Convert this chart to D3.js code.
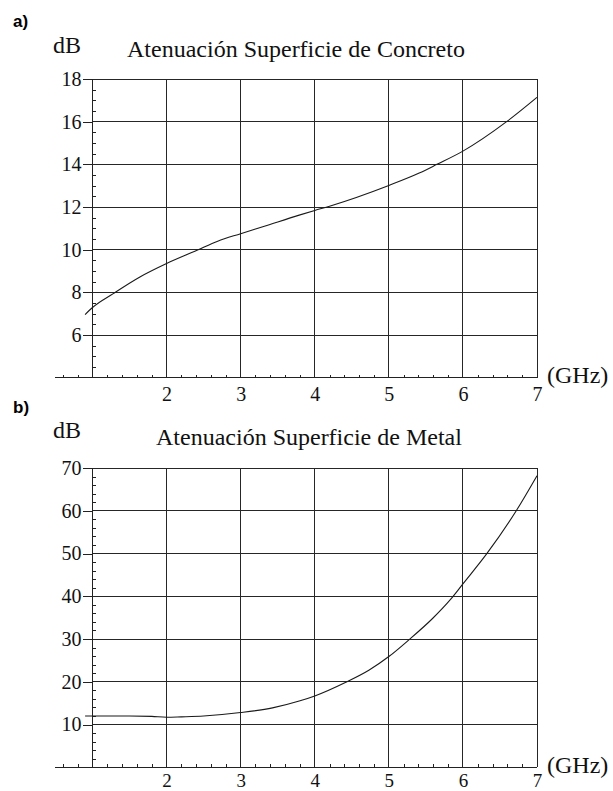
<!DOCTYPE html>
<html lang="es">
<head>
<meta charset="UTF-8">
<title>Atenuación</title>
<script src="https://cdn.jsdelivr.net/npm/d3@7"></script>
<style>
  body { margin: 0; background: #fff; }
  svg { display: block; }
  .axis path, .axis line { stroke: #222; shape-rendering: crispEdges; }
  .grid line { stroke: #262626; stroke-width: 1; shape-rendering: crispEdges; }
  .curve { fill: none; stroke: #1a1a1a; stroke-width: 1.1; }
</style>
</head>
<body>
<script>
// frequency ticks (GHz)
const freqTicks = [2, 3, 4, 5, 6, 7];

// a) concrete surface
const freqA  = [0.9, 1.0, 1.28, 1.64, 2.0, 2.41, 2.69, 3.0, 3.32, 3.79, 4.0, 4.2, 5.0, 5.41, 5.65, 6.0, 6.59, 7.0];
const attenA = [6.96, 7.29, 7.94, 8.72, 9.35, 9.97, 10.4, 10.75, 11.1, 11.62, 11.84, 12.04, 13.01, 13.59, 14.0, 14.62, 16.0, 17.14];
const yTicksA = [6, 8, 10, 12, 14, 16, 18];

// b) metal surface
const freqB  = [0.9, 1.0, 1.5, 1.8, 2.0, 2.2, 2.5, 3.0, 3.43, 3.79, 4.0, 4.42, 4.73, 5.0, 5.27, 5.59, 5.83, 6.0, 6.32, 6.72, 7.0];
const attenB = [12.0, 12.0, 12.0, 11.9, 11.7, 11.8, 12.0, 12.8, 13.9, 15.5, 16.7, 19.9, 22.7, 25.9, 29.8, 34.8, 39.2, 42.9, 49.9, 60.0, 68.2];
const yTicksB = [10, 20, 30, 40, 50, 60, 70];

var w = 613, h = 791;
var serif = "'Liberation Serif', 'Times New Roman', serif";
const svg = d3.select('body').append('svg').attr('width', w).attr('height', h);
svg.append('rect').attr('width', w).attr('height', h).attr('fill', '#fff');

function panel(opt) {
    var x = d3.scaleLinear().domain([1, 7]).range([92.5, 537]);
    var y = d3.scaleLinear().domain(opt.yDomain).range([opt.bottom, opt.top]);
    var g = svg.append('g');
    var y0 = opt.yDomain[0], yMax = opt.yDomain[1];

    // grid
    var grid = g.append('g').attr('class', 'grid');
    grid.selectAll('.h').data(opt.yTicks).join('line')
        .attr('x1', x(1)).attr('x2', x(7))
        .attr('y1', d => y(d)).attr('y2', d => y(d));
    grid.selectAll('.v').data(freqTicks).join('line')
        .attr('x1', d => x(d)).attr('x2', d => x(d))
        .attr('y1', y(y0)).attr('y2', y(yMax));

    // x axis: minor ticks above, labels below
    var xMinor = d3.range(0.6, 7.01, 0.2).filter(v => Math.abs(v - Math.round(v)) > 0.01);
    g.append('g').attr('class', 'axis')
        .attr('transform', 'translate(0,' + y(y0) + ')')
        .call(d3.axisBottom(x).tickValues(xMinor).tickSize(-3).tickFormat(''))
        .call(s => s.select('.domain').attr('d', 'M55,0H' + x(7)));
    g.append('g').attr('class', 'axis')
        .attr('transform', 'translate(0,' + y(y0) + ')')
        .call(d3.axisBottom(x).tickValues(freqTicks).tickSize(0).tickPadding(opt.xPad).tickFormat(d3.format('d')))
        .call(s => s.select('.domain').remove())
        .call(s => s.selectAll('text').attr('font-family', serif).attr('font-size', opt.xFont).attr('fill', '#111'));

    // y axis: major ticks out, minor ticks in
    g.append('g').attr('class', 'axis')
        .attr('transform', 'translate(' + x(1) + ',0)')
        .call(d3.axisLeft(y).tickValues(opt.yTicks).tickSize(10).tickPadding(1).tickFormat(d3.format('d')))
        .call(s => s.select('.domain').attr('d', 'M0,' + y(y0) + 'V' + y(yMax)))
        .call(s => s.selectAll('text').attr('font-family', serif).attr('font-size', 20).attr('fill', '#111'));
    g.append('g').attr('class', 'axis')
        .attr('transform', 'translate(' + x(1) + ',0)')
        .call(d3.axisLeft(y).tickValues(opt.yMinor).tickSize(-3).tickFormat(''))
        .call(s => s.select('.domain').remove());

    // curve
    var line = d3.line().x(d => x(d[0])).y(d => y(d[1])).curve(d3.curveMonotoneX);
    g.append('path').attr('class', 'curve').attr('d', line(d3.zip(opt.freq, opt.atten)));

    // texts
    g.append('text').attr('x', 13).attr('y', opt.tagY)
        .attr('font-family', "'Liberation Sans', Arial, sans-serif").attr('font-weight', 'bold')
        .attr('font-size', 17).text(opt.tag);
    var t = [['dB', 53, opt.dbY], [opt.title, opt.titleX, opt.titleY], ['(GHz)', 547, opt.ghzY]];
    g.selectAll('.lbl').data(t).join('text')
        .attr('x', d => d[1]).attr('y', d => d[2])
        .attr('font-family', serif).attr('font-size', 24).attr('fill', '#111')
        .text(d => d[0]);
}

panel({
    tag: 'a)', tagY: 27, dbY: 53, title: 'Atenuación Superficie de Concreto', titleX: 127, titleY: 57, ghzY: 383,
    yDomain: [4, 18], top: 79, bottom: 377.7, yTicks: yTicksA, xPad: 9, xFont: 20,
    yMinor: d3.range(4.5, 18, 0.5).filter(v => v % 2 !== 0),
    freq: freqA, atten: attenA
});
panel({
    tag: 'b)', tagY: 413, dbY: 438, title: 'Atenuación Superficie de Metal', titleX: 156, titleY: 444.5, ghzY: 773,
    yDomain: [0, 70], top: 468, bottom: 767.3, yTicks: yTicksB, xPad: 6, xFont: 19,
    yMinor: d3.range(2, 70, 2).filter(v => v % 10 !== 0),
    freq: freqB, atten: attenB
});
</script>
</body>
</html>
